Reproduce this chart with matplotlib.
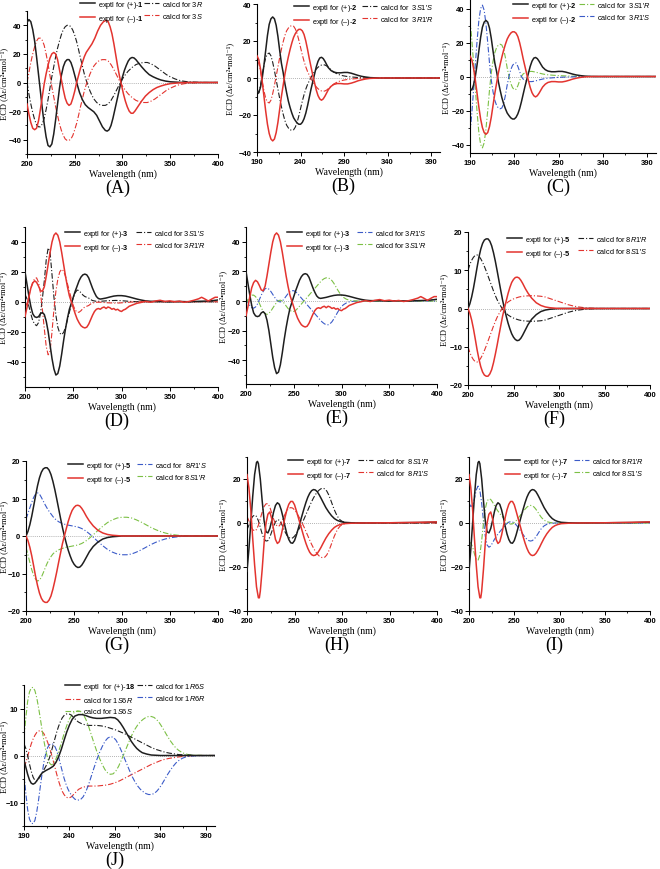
import numpy as np
import matplotlib
matplotlib.use("Agg")
import matplotlib.pyplot as plt
from matplotlib.ticker import MultipleLocator

plt.rcParams['font.family'] = ['Liberation Sans', 'DejaVu Sans']
plt.rcParams['mathtext.fontset'] = 'custom'
plt.rcParams['mathtext.rm'] = 'Liberation Sans'
plt.rcParams['mathtext.it'] = 'Liberation Sans:italic'
plt.rcParams['mathtext.bf'] = 'Liberation Sans:bold'

W, H = 660, 870
BLACK = '#1e1e1e'
RED = '#e3342f'
GREEN = '#7cc045'
BLUE = '#3b5bc8'
SERIF = ['Liberation Serif', 'DejaVu Serif']

# ---------------- data (wavelength nm, delta epsilon) ----------------
# (A) compound 1
a_exp_pos = [(200,42),(202,44),(204,42.5),(206,37),(208,29),(210,18),(212,6),(214,-6),(216,-18),(218,-29),(220,-38),(222,-44),(224,-45),(226,-43),(228,-36),(230,-26),(232,-15),(234,-4),(236,5),(238,11),(240,14.5),(242,16),(244,16),(246,14),(248,10),(250,5),(252,0),(255,-7),(258,-12),(261,-15.5),(264,-17.5),(267,-19),(270,-20.5),(273,-23),(276,-27),(279,-31),(282,-33.5),(284,-34),(286,-33),(288,-30),(290,-25),(292,-19),(294,-13),(296,-7),(298,-1),(300,4),(302,8.5),(304,12),(306,15),(308,16.8),(310,17.5),(312,17.2),(314,16),(317,13.5),(320,11),(324,8),(328,5.5),(332,4),(336,2.8),(340,1.8),(345,1),(350,0.5),(360,0.1),(370,0),(400,0)]
a_exp_neg = [(200,-15),(202,-22),(204,-28),(206,-32),(208,-33),(210,-32),(212,-27),(214,-19),(216,-10),(218,-1),(220,6),(222,12),(224,17),(226,20),(228,21),(230,20),(232,16),(234,9),(236,2),(238,-5),(240,-11),(242,-14.5),(244,-16),(246,-15),(248,-11),(250,-6),(252,0),(254,5),(256,10),(258,14),(260,18),(262,21),(265,24),(268,27),(271,31),(274,36),(277,40),(280,42.5),(283,43.5),(285,42.5),(287,39),(289,34),(291,27),(293,19),(295,11),(297,4),(299,-2),(301,-8),(303,-13),(305,-17),(307,-20),(309,-21.5),(311,-21.5),(313,-20),(316,-17),(320,-13),(324,-9.5),(328,-7),(332,-5),(336,-3.5),(340,-2.5),(345,-1.5),(350,-0.8),(360,-0.2),(370,0),(400,0)]
a_calc_3R = [(200,0),(202,-8),(204,-15),(206,-21),(208,-26),(210,-29.5),(212,-31),(214,-31),(216,-29),(218,-25),(220,-19),(222,-12),(224,-4),(226,4),(228,11),(230,18),(232,24),(234,29),(236,33.5),(238,37),(240,39),(242,40),(244,40),(246,39),(248,36.5),(250,33),(252,28.5),(254,23),(256,17),(258,11.5),(260,6),(262,1.5),(264,-2.5),(266,-6),(268,-9),(270,-11.5),(273,-14),(276,-15.5),(279,-16),(282,-16),(285,-15),(288,-12.5),(291,-9),(294,-5),(297,-1),(300,2.5),(303,5.5),(306,8),(310,10.5),(314,12.5),(318,13.5),(322,14),(326,14),(330,13),(334,11.5),(338,9.5),(342,7.5),(346,5.5),(350,4),(355,2.5),(360,1.4),(365,0.8),(370,0.4),(380,0.1),(390,0),(400,0)]
a_calc_3S = [(200,0),(202,7),(204,14),(206,20),(208,25),(210,29),(212,31),(214,31),(216,29.5),(218,26),(220,20),(222,13),(224,5),(226,-3),(228,-10),(230,-17),(232,-23),(234,-29),(236,-33.5),(238,-37),(240,-39.5),(242,-40.5),(244,-40.5),(246,-39.5),(248,-37),(250,-33),(252,-28.5),(254,-23),(256,-17),(258,-11.5),(260,-6),(262,-1.5),(264,2.5),(266,6),(268,9),(270,11.5),(273,14),(276,15.5),(279,16),(282,16),(285,15),(288,12.5),(291,9),(294,5),(297,1),(300,-2.5),(303,-5.5),(306,-8),(310,-10.5),(314,-12.5),(318,-13.5),(322,-14),(326,-14),(330,-13),(334,-11.5),(338,-9.5),(342,-7.5),(346,-5.5),(350,-4),(355,-2.5),(360,-1.4),(365,-0.8),(370,-0.4),(380,-0.1),(390,0),(400,0)]

# (B), (C) compound 2
b_exp_pos = [(190,-7),(192,-8),(194,-5),(196,0),(198,7),(200,15),(202,23),(204,29),(206,32),(208,33),(210,32),(212,28.5),(214,22.5),(216,15),(218,8),(220,3),(222,-3),(224,-8),(226,-12.5),(228,-16),(230,-19),(232,-21.5),(234,-23),(236,-24.3),(238,-25),(240,-25),(242,-24),(244,-22),(246,-19),(248,-15),(250,-10.5),(252,-6),(254,-2),(256,2),(258,6),(260,9),(262,10.8),(264,11.2),(266,10.5),(268,9),(270,7.2),(272,5.5),(275,4),(278,3.2),(282,2.8),(286,2.8),(290,3),(294,3),(298,2.6),(302,2),(306,1.4),(310,0.9),(315,0.5),(320,0.2),(330,0),(400,0)]
b_exp_neg = [(190,12),(192,10),(194,5),(196,-2),(198,-10),(200,-18),(202,-25),(204,-30),(206,-33),(208,-34),(210,-33),(212,-29.5),(214,-24),(216,-17),(218,-10),(220,-4),(222,2),(224,7),(226,11.5),(228,15.5),(230,19),(232,22),(234,24),(236,25.5),(238,26.3),(240,26.3),(242,25.5),(244,23.5),(246,20),(248,15.5),(250,10.5),(252,6),(254,1.5),(256,-2.5),(258,-6.5),(260,-9.5),(262,-11.3),(264,-12),(266,-11.3),(268,-9.8),(270,-8),(272,-6.2),(275,-4.5),(278,-3.5),(282,-3),(286,-3),(290,-3.2),(294,-3.2),(298,-2.8),(302,-2.2),(306,-1.5),(310,-1),(315,-0.5),(320,-0.2),(330,0),(400,0)]
b_calc_3S1S = [(190,-9),(192,-8),(194,-4),(196,2),(198,7),(200,11),(202,13),(204,13.5),(206,12),(208,8.5),(210,4),(212,-1),(214,-6),(216,-11),(218,-15.5),(220,-19.5),(222,-23),(224,-25.5),(226,-27),(228,-28),(230,-28.3),(232,-28),(234,-26.5),(236,-24),(238,-20.5),(240,-16.5),(242,-12.5),(244,-9),(246,-6),(248,-3.5),(250,-1.5),(252,0.3),(254,2),(256,3.5),(258,4.8),(260,5.8),(262,6.5),(264,7),(266,7.2),(268,7),(270,6.5),(272,5.7),(275,4.5),(278,3.3),(282,2.2),(286,1.5),(290,1.1),(295,0.7),(300,0.5),(305,0.3),(310,0.1),(320,0),(400,0)]
b_calc_3R1R = [(190,9),(192,8),(194,4),(196,-2),(198,-7),(200,-11),(202,-13),(204,-13.5),(206,-12),(208,-8.5),(210,-4),(212,1),(214,6),(216,11),(218,15.5),(220,19.5),(222,23),(224,25.5),(226,27),(228,28),(230,28.3),(232,28),(234,26.5),(236,24),(238,20.5),(240,16.5),(242,12.5),(244,9),(246,6),(248,3.5),(250,1.5),(252,-0.3),(254,-2),(256,-3.5),(258,-4.8),(260,-5.8),(262,-6.5),(264,-7),(266,-7.2),(268,-7),(270,-6.5),(272,-5.7),(275,-4.5),(278,-3.3),(282,-2.2),(286,-1.5),(290,-1.1),(295,-0.7),(300,-0.5),(305,-0.3),(310,-0.1),(320,0),(400,0)]
c_calc_3S1R = [(190,33),(192,22),(194,8),(196,-7),(198,-21),(200,-33),(202,-40),(204,-42),(206,-39),(208,-31),(210,-20),(212,-8),(214,2),(216,9),(218,14),(220,17),(222,18.5),(224,19),(226,18.5),(228,16),(230,11),(232,5),(234,0),(236,-4),(238,-6.5),(240,-7.8),(242,-7.5),(244,-5.5),(246,-2.5),(248,0),(250,1.5),(253,2.5),(256,3),(260,3),(264,2.6),(268,2),(272,1.5),(276,1.1),(280,0.9),(285,0.7),(290,0.5),(300,0.3),(310,0.1),(320,0),(400,0)]
c_calc_3R1S = [(190,-33),(192,-22),(194,-8),(196,7),(198,21),(200,33),(202,40),(204,42),(206,39),(208,31),(210,20),(212,8),(214,-2),(216,-9),(218,-14),(220,-17),(222,-18.5),(224,-19),(226,-18.5),(228,-16),(230,-11),(232,-5),(234,0),(236,4),(238,6.5),(240,7.8),(242,8),(244,6),(246,3),(248,0),(250,-1.5),(253,-2.5),(256,-3),(260,-3),(264,-2.6),(268,-2),(272,-1.5),(276,-1.1),(280,-0.9),(285,-0.7),(290,-0.5),(300,-0.3),(310,-0.1),(320,0),(400,0)]

# (D), (E) compound 3
d_exp_pos = [(200,20),(202,12),(204,4),(206,-3),(208,-8),(210,-10),(212,-10.5),(214,-10),(216,-8),(218,-7.2),(220,-8.5),(222,-13),(224,-20),(226,-29),(228,-38),(230,-45),(232,-49),(234,-48),(236,-43),(238,-35),(240,-26),(242,-18),(244,-11),(246,-5),(248,-1),(250,3),(252,7),(254,10.5),(256,14),(258,16.5),(260,18),(262,18.5),(264,18),(266,16),(268,12.5),(270,9),(272,6),(274,3.5),(276,2.2),(278,1.8),(280,2),(284,2.5),(288,3.2),(292,3.8),(296,4.1),(300,4.1),(304,3.8),(308,3.2),(312,2.5),(316,1.8),(320,1.2),(325,0.6),(330,0.3),(340,0.2),(350,0),(360,0.2),(370,0),(380,0.3),(390,0.5),(395,0.8),(400,1.2)]
d_exp_neg = [(200,-10),(202,-4),(204,3),(206,9),(208,12.5),(210,14),(212,13),(214,10.5),(216,7.5),(218,7),(220,10),(222,17),(224,25),(226,33),(228,40),(230,44.5),(232,46),(234,44.5),(236,40),(238,33),(240,25),(242,17),(244,10),(246,4),(248,0),(250,-4),(252,-8),(254,-11.5),(256,-14),(258,-16),(260,-17),(262,-17.5),(264,-17),(266,-15),(268,-12),(270,-9),(272,-6.5),(274,-5),(276,-4.5),(278,-5),(280,-4),(282,-3.5),(284,-4.5),(286,-3.5),(288,-4),(290,-5),(292,-4.5),(294,-5.5),(296,-5),(298,-6),(300,-6.5),(302,-5.5),(304,-5),(306,-4),(308,-3),(312,-2),(316,-1),(320,-0.5),(325,0.3),(330,-0.3),(335,0.5),(340,1),(345,0.2),(350,0.6),(355,0),(360,0.4),(365,-0.3),(370,0.2),(375,1),(380,2),(383,3),(386,2),(390,0.5),(394,2),(397,3),(400,3)]
d_calc_3S1S = [(200,5),(202,2),(204,-3),(206,-8),(208,-12.5),(210,-15),(212,-16),(214,-14),(216,-8),(218,2),(220,14),(222,28),(224,36),(226,33),(228,18),(230,3),(232,-9),(234,-17),(236,-21),(238,-22),(240,-20.5),(242,-17),(244,-12),(246,-7),(248,-2),(250,2.5),(252,6),(254,7.8),(256,7.5),(258,6),(260,4.5),(262,3.5),(264,3),(266,2.5),(268,1.5),(270,0.8),(274,0.3),(278,0.3),(282,0.5),(286,0.7),(290,0.8),(294,0.9),(298,0.8),(302,0.6),(306,0.4),(310,0.2),(320,0),(400,0)]
d_calc_3R1R = [(200,-4),(202,-1),(204,4),(206,9),(208,13),(210,15.5),(212,16),(214,13),(216,6),(218,-5),(220,-18),(222,-30),(224,-35.5),(226,-33),(228,-20),(230,-5),(232,7),(234,15),(236,20),(238,21.7),(240,20.5),(242,17),(244,12),(246,7),(248,2),(250,-2.5),(252,-5.5),(254,-7),(256,-7),(258,-6),(260,-4.5),(262,-3.5),(264,-3),(266,-2.5),(268,-1.5),(270,-0.8),(274,-0.3),(278,-0.3),(282,-0.5),(286,-0.7),(290,-0.8),(294,-0.9),(298,-0.8),(302,-0.6),(306,-0.4),(310,-0.2),(320,0),(400,0)]
e_calc_3R1S = [(200,2),(202,-1),(204,-3),(206,-4.5),(208,-4.8),(210,-4),(212,-2),(214,1),(216,4),(218,6.5),(220,8.3),(222,8.8),(224,8),(226,6.5),(228,4.5),(230,2.5),(232,0.8),(234,-0.3),(236,-0.6),(238,0),(240,1.5),(242,3.3),(244,5),(246,6.3),(248,7),(250,7),(252,6.3),(254,5),(256,3.5),(258,2),(260,0.5),(262,-1),(264,-2.5),(266,-4),(268,-5.5),(270,-7),(272,-8.5),(274,-10),(276,-11.5),(278,-13),(280,-14.3),(282,-15.3),(284,-16),(286,-16),(288,-15.3),(290,-14),(292,-12),(294,-9.8),(296,-7.5),(298,-5.5),(300,-3.8),(302,-2.5),(305,-1.3),(308,-0.6),(312,-0.2),(320,0),(400,0)]
e_calc_3S1R = [(200,-2),(202,1),(204,3),(206,4),(208,4),(210,3),(212,1),(214,-1.5),(216,-4.5),(218,-7),(220,-8.5),(222,-9),(224,-8.3),(226,-6.8),(228,-4.8),(230,-2.8),(232,-1),(234,0.3),(236,0.6),(238,0),(240,-1.5),(242,-3.3),(244,-5),(246,-6.3),(248,-7),(250,-7),(252,-6.3),(254,-5),(256,-3.5),(258,-2),(260,-0.5),(262,1),(264,2.5),(266,4),(268,5.5),(270,7),(272,8.5),(274,10),(276,11.5),(278,13),(280,14.3),(282,15.2),(284,15.7),(286,15.7),(288,15),(290,13.8),(292,12),(294,9.8),(296,7.5),(298,5.5),(300,3.8),(302,2.5),(305,1.3),(308,0.6),(312,0.2),(320,0),(400,0)]

# (F), (G) compound 5
f_exp_pos = [(200,0),(202,1.2),(204,3),(206,5.3),(208,8),(210,10.8),(212,13.4),(214,15.5),(216,17),(218,17.9),(220,18.2),(222,18.2),(224,17.6),(226,16.4),(228,14.6),(230,12.4),(232,9.9),(234,7.3),(236,4.7),(238,2.2),(240,0),(242,-2),(244,-3.8),(246,-5.3),(248,-6.6),(250,-7.5),(252,-8.1),(254,-8.4),(256,-8.3),(258,-7.8),(260,-7),(263,-5.6),(266,-4.2),(270,-2.8),(275,-1.6),(280,-0.8),(285,-0.4),(290,-0.2),(300,0),(400,0)]
f_exp_neg = [(200,0),(202,-1.2),(204,-3),(206,-5.3),(208,-8),(210,-10.8),(212,-13.2),(214,-15.2),(216,-16.6),(218,-17.4),(220,-17.7),(222,-17.7),(224,-17.1),(226,-16),(228,-14.2),(230,-12),(232,-9.6),(234,-7),(236,-4.5),(238,-2),(240,0),(242,2),(244,3.9),(246,5.5),(248,6.8),(250,7.6),(252,8.1),(254,8.2),(256,8),(258,7.4),(260,6.6),(263,5.2),(266,4),(270,2.7),(275,1.5),(280,0.8),(285,0.4),(290,0.2),(300,0),(400,0)]
f_calc_8R1R = [(200,10),(202,11.5),(204,12.6),(206,13.4),(208,13.9),(210,14),(212,13.7),(214,13),(216,12.1),(218,11),(220,9.8),(222,8.5),(224,7.2),(226,5.9),(228,4.6),(230,3.4),(232,2.3),(234,1.4),(236,0.6),(238,-0.2),(240,-0.8),(244,-1.7),(248,-2.3),(252,-2.7),(256,-3),(260,-3.2),(265,-3.3),(270,-3.35),(275,-3.3),(280,-3.2),(285,-3),(290,-2.6),(295,-2.2),(300,-1.8),(305,-1.4),(310,-1),(315,-0.7),(320,-0.45),(325,-0.3),(330,-0.15),(340,-0.05),(350,0),(400,0)]
f_calc_8S1S = [(200,-10),(202,-11.5),(204,-12.6),(206,-13.4),(208,-13.9),(210,-14),(212,-13.7),(214,-13),(216,-12.1),(218,-11),(220,-9.8),(222,-8.5),(224,-7.2),(226,-5.9),(228,-4.6),(230,-3.4),(232,-2.3),(234,-1.4),(236,-0.6),(238,0.2),(240,0.8),(244,1.7),(248,2.3),(252,2.7),(256,3),(260,3.2),(265,3.3),(270,3.35),(275,3.3),(280,3.2),(285,3),(290,2.6),(295,2.2),(300,1.8),(305,1.4),(310,1),(315,0.7),(320,0.45),(325,0.3),(330,0.15),(340,0.05),(350,0),(400,0)]
g_calc_8R1S = [(200,4.5),(202,6),(204,7.5),(206,9),(208,10.3),(210,11.2),(212,11.5),(214,11.2),(216,10.3),(218,9.3),(220,8.3),(222,7.4),(224,6.6),(226,5.9),(228,5.2),(230,4.6),(234,3.8),(238,3.3),(242,3),(246,2.8),(250,2.6),(254,2.4),(258,2),(262,1.4),(266,0.6),(270,-0.3),(275,-1.5),(280,-2.6),(285,-3.6),(290,-4.3),(295,-4.8),(300,-5),(305,-5),(310,-4.8),(315,-4.3),(320,-3.7),(325,-3),(330,-2.3),(335,-1.7),(340,-1.2),(345,-0.8),(350,-0.5),(355,-0.3),(360,-0.15),(370,0),(400,0)]
g_calc_8S1R = [(200,-3),(202,-5),(204,-7),(206,-9),(208,-10.5),(210,-11.5),(212,-12),(214,-11.8),(216,-11),(218,-9.8),(220,-8.5),(222,-7.3),(224,-6.3),(226,-5.5),(228,-4.8),(230,-4.3),(234,-3.7),(238,-3.3),(242,-3),(246,-2.8),(250,-2.6),(254,-2.4),(258,-2),(262,-1.4),(266,-0.6),(270,0.3),(275,1.5),(280,2.6),(285,3.6),(290,4.3),(295,4.8),(300,5),(305,5),(310,4.8),(315,4.3),(320,3.7),(325,3),(330,2.3),(335,1.7),(340,1.2),(345,0.8),(350,0.5),(355,0.3),(360,0.15),(370,0),(400,0)]

# (H), (I) compound 7
h_exp_pos = [(200,-22),(202,-12),(204,0),(206,12),(208,22),(210,27.5),(211,28),(212,27),(214,20),(216,10),(218,1),(220,-4),(222,-4.5),(224,-2.5),(226,1),(228,5),(230,8),(232,9.2),(234,8.5),(236,6),(238,2.5),(240,-1.5),(242,-5),(244,-7.5),(246,-9),(248,-9.2),(250,-8),(252,-5.5),(254,-2.5),(256,0.5),(258,3.5),(260,6.5),(262,9.3),(264,11.7),(266,13.5),(268,14.7),(270,15.2),(272,15),(274,14.2),(276,12.8),(278,11.2),(280,9.5),(283,7),(286,5),(289,3.3),(292,2),(295,1.2),(298,0.7),(302,0.3),(306,0.2),(310,0.1),(320,0),(350,0.1),(380,0.2),(400,0.4)]
h_exp_neg = [(200,22),(202,16),(204,6),(206,-7),(208,-19),(210,-29),(212,-34),(213,-34),(214,-31),(216,-21),(218,-9),(220,0),(222,4),(224,5),(226,2),(228,-3),(230,-7.5),(232,-9.3),(234,-8.5),(236,-5.5),(238,-1.5),(240,2.5),(242,6),(244,8.5),(246,9.8),(248,9.8),(250,8.3),(252,5.5),(254,2.5),(256,-0.5),(258,-3.5),(260,-6.5),(262,-9.2),(264,-11.5),(266,-13.3),(268,-14.4),(270,-14.8),(272,-14.6),(274,-13.8),(276,-12.5),(278,-11),(280,-9.3),(283,-6.9),(286,-4.9),(289,-3.3),(292,-2),(295,-1.2),(298,-0.7),(302,-0.3),(306,-0.2),(310,-0.1),(320,0),(350,0.1),(380,0.3),(400,0.5)]
h_calc_8S1R = [(200,-3),(202,-1),(204,1.5),(206,3),(208,3.6),(210,3),(212,1),(214,-2),(216,-5),(218,-7.3),(220,-8.2),(222,-8),(224,-6.5),(226,-4),(228,-1.5),(230,0.5),(232,1.5),(234,1.3),(236,0),(238,-2),(240,-4),(242,-5.6),(244,-6.6),(246,-7),(248,-6.8),(250,-6),(252,-4.8),(254,-3.3),(256,-1.7),(258,0),(260,1.8),(262,3.8),(264,5.8),(266,7.8),(268,9.7),(270,11.4),(272,12.9),(274,14.1),(276,15),(278,15.6),(280,15.8),(282,15.5),(284,14.5),(286,12.8),(288,10.6),(290,8.2),(292,5.9),(294,4),(296,2.5),(298,1.4),(300,0.8),(303,0.3),(306,0.1),(310,0),(400,0)]
h_calc_8R1S = [(200,3),(202,1),(204,-1.5),(206,-3),(208,-3.6),(210,-3),(212,-1),(214,2),(216,5),(218,7.5),(220,8.7),(222,8.8),(224,7.3),(226,4.5),(228,1.8),(230,-0.5),(232,-1.5),(234,-1.3),(236,0),(238,2),(240,4),(242,5.6),(244,6.6),(246,7),(248,6.8),(250,6),(252,4.8),(254,3.3),(256,1.7),(258,0),(260,-1.8),(262,-3.8),(264,-5.8),(266,-7.8),(268,-9.7),(270,-11.4),(272,-12.9),(274,-14.1),(276,-15),(278,-15.6),(280,-15.8),(282,-15.5),(284,-14.5),(286,-12.8),(288,-10.6),(290,-8.2),(292,-5.9),(294,-4),(296,-2.5),(298,-1.4),(300,-0.8),(303,-0.3),(306,-0.1),(310,0),(400,0)]
i_calc_8R1R = [(200,9),(202,7.5),(204,8),(206,11),(208,15),(210,16.8),(212,15),(214,9),(216,1),(218,-6),(220,-10),(222,-11),(224,-10.5),(226,-9),(228,-7.5),(230,-6.2),(232,-5),(234,-4),(236,-3),(238,-2),(240,-1),(242,-0.2),(244,0.4),(246,0.6),(248,0.5),(250,0),(252,-0.8),(254,-1.8),(256,-3),(258,-4.2),(260,-5.4),(262,-6.5),(264,-7.4),(266,-8),(268,-8.2),(270,-8),(272,-7.3),(274,-6.3),(276,-5),(278,-3.7),(280,-2.5),(283,-1.3),(286,-0.6),(290,-0.2),(295,0),(400,0)]
i_calc_8S1S = [(200,-9),(202,-9),(204,-11),(206,-14),(208,-16.5),(210,-17),(212,-14.5),(214,-8),(216,0),(218,6.5),(220,10),(222,11),(224,10.7),(226,9.5),(228,8),(230,6.6),(232,5.4),(234,4.3),(236,3.3),(238,2.3),(240,1.3),(242,0.4),(244,-0.2),(246,-0.5),(248,-0.4),(250,0.2),(252,1),(254,2),(256,3.1),(258,4.2),(260,5.3),(262,6.3),(264,7.2),(266,7.8),(268,8),(270,7.8),(272,7.2),(274,6.2),(276,5),(278,3.7),(280,2.5),(283,1.3),(286,0.6),(290,0.2),(295,0),(400,0)]

# (J) compound 18
j_exp_pos = [(190,-1),(192,-2.5),(194,-4),(196,-5.2),(198,-5.9),(200,-6.1),(202,-5.9),(204,-5.4),(206,-4.8),(208,-4.2),(210,-3.7),(214,-3.2),(218,-2.8),(222,-2.3),(225,-1.5),(228,-0.3),(231,1.3),(234,3.2),(237,5),(240,6.5),(243,7.7),(246,8.4),(250,8.7),(254,8.7),(258,8.5),(262,8.2),(266,8),(270,7.9),(275,7.9),(280,8),(285,8.1),(290,8),(293,7.6),(296,6.9),(299,6),(302,5),(305,4),(308,3),(311,2.2),(314,1.5),(317,1),(320,0.6),(325,0.3),(330,0.1),(340,0),(400,0)]
j_calc_1R6S = [(190,2.5),(192,1.5),(194,0),(196,-1.8),(198,-3.4),(200,-4.6),(202,-5.3),(204,-5.4),(206,-5),(208,-4.4),(210,-3.7),(212,-3),(214,-2.3),(216,-1.5),(218,-0.5),(220,0.8),(222,2.2),(224,3.6),(226,5),(228,6.2),(230,7.2),(232,8),(234,8.5),(236,8.8),(238,8.9),(240,8.8),(242,8.6),(244,8.2),(246,7.8),(248,7.4),(250,7.1),(254,6.7),(258,6.5),(262,6.4),(266,6.4),(270,6.4),(275,6.3),(280,6.1),(285,5.8),(290,5.5),(295,5.1),(300,4.7),(305,4.2),(310,3.7),(315,3.2),(320,2.7),(325,2.2),(330,1.7),(335,1.3),(340,1),(345,0.7),(350,0.5),(360,0.2),(370,0.1),(380,0),(400,0)]
j_calc_1S6R = [(190,-2.5),(192,-1.5),(194,-0.2),(196,1.2),(198,2.5),(200,3.5),(202,4.3),(204,4.9),(206,5.2),(208,5.3),(210,5.1),(212,4.6),(214,3.8),(216,2.8),(218,1.7),(220,0.4),(222,-1),(224,-2.5),(226,-4),(228,-5.4),(230,-6.6),(232,-7.6),(234,-8.3),(236,-8.8),(238,-9),(240,-9),(242,-8.8),(244,-8.4),(246,-8),(248,-7.6),(250,-7.2),(254,-6.8),(258,-6.6),(262,-6.5),(266,-6.5),(270,-6.5),(275,-6.4),(280,-6.3),(285,-6.1),(290,-5.8),(295,-5.4),(300,-4.9),(305,-4.4),(310,-3.9),(315,-3.4),(320,-2.9),(325,-2.4),(330,-1.9),(335,-1.5),(340,-1.1),(345,-0.8),(350,-0.6),(360,-0.3),(370,-0.1),(380,0),(400,0)]
j_calc_1S6S = [(190,4),(192,8),(194,11.5),(196,13.5),(198,14.4),(200,14.5),(202,13.8),(204,12.3),(206,10.2),(208,7.8),(210,5.3),(212,3),(214,1),(216,-0.6),(218,-1.6),(220,-2),(222,-1.8),(224,-1.2),(226,-0.3),(228,0.8),(230,2),(232,3.3),(234,4.6),(236,5.8),(238,6.9),(240,7.8),(243,8.7),(246,9.3),(249,9.5),(252,9.4),(255,8.8),(258,7.7),(261,6.2),(264,4.4),(267,2.6),(270,0.9),(273,-0.6),(276,-1.9),(279,-3),(282,-3.7),(285,-4),(288,-3.9),(291,-3.3),(294,-2.3),(297,-1),(300,0.4),(303,1.8),(306,3.2),(309,4.5),(312,5.6),(315,6.5),(318,7.2),(321,7.7),(324,8.1),(327,8.3),(330,8.3),(333,8.1),(336,7.6),(339,6.9),(342,6),(345,5),(348,4),(351,3.1),(354,2.3),(357,1.6),(360,1.1),(364,0.6),(368,0.3),(372,0.15),(380,0.05),(390,0),(400,0)]
j_calc_1R6R = [(190,-4),(192,-8),(194,-11.5),(196,-13.5),(198,-14.4),(200,-14.5),(202,-13.8),(204,-12),(206,-9.5),(208,-6.5),(210,-3.7),(212,-1.3),(214,0.5),(216,1.7),(218,2.3),(220,2.5),(222,2.4),(224,1.9),(226,1),(228,-0.3),(230,-1.8),(232,-3.3),(234,-4.8),(236,-6),(238,-7),(240,-7.8),(243,-8.7),(246,-9.3),(249,-9.5),(252,-9.4),(255,-8.8),(258,-7.7),(261,-6.2),(264,-4.4),(267,-2.6),(270,-0.9),(273,0.6),(276,1.9),(279,3),(282,3.7),(285,4),(288,3.9),(291,3.3),(294,2.3),(297,1),(300,-0.4),(303,-1.8),(306,-3.2),(309,-4.5),(312,-5.6),(315,-6.5),(318,-7.2),(321,-7.7),(324,-8.1),(327,-8.3),(330,-8.3),(333,-8.1),(336,-7.6),(339,-6.9),(342,-6),(345,-5),(348,-4),(351,-3.1),(354,-2.3),(357,-1.6),(360,-1.1),(364,-0.6),(368,-0.3),(372,-0.15),(380,-0.05),(390,0),(400,0)]

EXP_P = "exptl for (+)-$\\mathbf{%s}$"
EXP_N = "exptl for (\u2013)-$\\mathbf{%s}$"

# letter, axes box (l, t, r, b px), xlim, xstep, ylim, ystep, ylabel right-edge x px,
# legend (col1 x, col2 x, top y px), column 1 curves, column 2 curves
panels = [
    ("(A)", (27, 12, 218, 155), (200, 400), 50, (-50, 50), 20, 8, (80, 144, 0),
     [(a_exp_pos, BLACK, '-', EXP_P % "1"), (a_exp_neg, RED, '-', EXP_N % "1")],
     [(a_calc_3R, BLACK, 'dd', "calcd for 3$R$"), (a_calc_3S, RED, 'dd', "calcd for 3$S$")]),
    ("(B)", (257, 5, 440, 153), (190, 400), 50, (-40, 40), 20, 234, (294, 362, 3),
     [(b_exp_pos, BLACK, '-', EXP_P % "2"), (b_exp_neg, RED, '-', EXP_N % "2")],
     [(b_calc_3S1S, BLACK, 'dd', "calcd for  3$S$1'$S$"), (b_calc_3R1R, RED, 'dd', "calcd for  3$R$1'$R$")]),
    ("(C)", (470, 1, 656, 154), (190, 400), 50, (-45, 45), 20, 450, (513, 579, 1),
     [(b_exp_pos, BLACK, '-', EXP_P % "2"), (b_exp_neg, RED, '-', EXP_N % "2")],
     [(c_calc_3S1R, GREEN, 'dd', "calcd for  3$S$1'$R$"), (c_calc_3R1S, BLUE, 'dd', "calcd for  3$R$1'$S$")]),
    ("(D)", (25, 228, 218, 388), (200, 400), 50, (-57, 50), 20, 7, (65, 136, 229),
     [(d_exp_pos, BLACK, '-', EXP_P % "3"), (d_exp_neg, RED, '-', EXP_N % "3")],
     [(d_calc_3S1S, BLACK, 'dd', "calcd for 3$S$1'$S$"), (d_calc_3R1R, RED, 'dd', "calcd for 3$R$1'$R$")]),
    ("(E)", (246, 228, 437, 385), (200, 400), 50, (-56, 50), 20, 227, (287, 357, 229),
     [(d_exp_pos, BLACK, '-', EXP_P % "3"), (d_exp_neg, RED, '-', EXP_N % "3")],
     [(e_calc_3R1S, BLUE, 'dd', "calcd for 3$R$1'$S$"), (e_calc_3S1R, GREEN, 'dd', "calcd for 3$S$1'$R$")]),
    ("(F)", (468, 233, 650, 386), (200, 400), 50, (-20, 20), 10, 448, (507, 578, 235),
     [(f_exp_pos, BLACK, '-', EXP_P % "5"), (f_exp_neg, RED, '-', EXP_N % "5")],
     [(f_calc_8R1R, BLACK, 'dd', "calcd for 8$R$1'$R$"), (f_calc_8S1S, RED, 'dd', "calcd for 8$S$1'$S$")]),
    ("(G)", (26, 462, 218, 612), (200, 400), 50, (-20, 20), 10, 8, (68, 137, 461),
     [(f_exp_pos, BLACK, '-', EXP_P % "5"), (f_exp_neg, RED, '-', EXP_N % "5")],
     [(g_calc_8R1S, BLUE, 'dd', "cacd for  8$R$1'$S$"), (g_calc_8S1R, GREEN, 'dd', "calcd for 8$S$1'$R$")]),
    ("(H)", (247, 458, 437, 612), (200, 400), 50, (-40, 30), 20, 227, (288, 358, 457),
     [(h_exp_pos, BLACK, '-', EXP_P % "7"), (h_exp_neg, RED, '-', EXP_N % "7")],
     [(h_calc_8S1R, BLACK, 'dd', "calcd for  8$S$1'$R$"), (h_calc_8R1S, RED, 'dd', "calcd for  8$R$1'$S$")]),
    ("(I)", (469, 458, 650, 612), (200, 400), 50, (-40, 30), 20, 448, (505, 574, 457),
     [(h_exp_pos, BLACK, '-', EXP_P % "7"), (h_exp_neg, RED, '-', EXP_N % "7")],
     [(i_calc_8R1R, BLUE, 'dd', "calcd for 8$R$1'$R$"), (i_calc_8S1S, GREEN, 'dd', "calcd for 8$S$1'$S$")]),
    ("(J)", (24, 686, 215, 827), (190, 400), 50, (-15, 15), 10, 8, (65, 137, 682),
     [(j_exp_pos, BLACK, '-', "exptl  for (+)-$\\mathbf{18}$"), (j_calc_1S6R, RED, 'dd', "calcd for 1$S$6$R$"),
      (j_calc_1S6S, GREEN, 'dd', "calcd for 1$S$6$S$")],
     [(j_calc_1R6S, BLACK, 'dd', "calcd for 1$R$6$S$"), (j_calc_1R6R, BLUE, 'dd', "calcd for 1$R$6$R$")]),
]

fig = plt.figure(figsize=(W / 100, H / 100), dpi=100)

for letter, box, xlim, xstep, ylim, ystep, ylab_x, leg, col1, col2 in panels:
    l, t, r, b = box
    ax = fig.add_axes([l / W, 1 - b / H, (r - l) / W, (b - t) / H])
    ax.axhline(0, color='#9a9a9a', lw=0.6, ls=(0, (1, 1.5)), zorder=1)
    columns = []
    for group in (col1, col2):
        handles = []
        for pts, color, style, label in group:
            x, y = np.array(pts, dtype=float).T
            if style == 'dd':
                ln, = ax.plot(x, y, color=color, lw=0.8, ls=(0, (5, 1.8, 1, 1.8)), label=label, zorder=2)
            else:
                ln, = ax.plot(x, y, color=color, lw=1.1, label=label, zorder=3)
            handles.append(ln)
        columns.append(handles)
    ax.set_xlim(*xlim)
    ax.set_ylim(*ylim)
    if xlim[0] == 190:
        ax.set_xticks(np.arange(190, 401, 50))
        ax.set_xticks(np.arange(215, 401, 50), minor=True)
    else:
        ax.xaxis.set_major_locator(MultipleLocator(xstep))
        ax.xaxis.set_minor_locator(MultipleLocator(xstep / 2))
    ax.yaxis.set_major_locator(MultipleLocator(ystep))
    ax.yaxis.set_minor_locator(MultipleLocator(ystep / 2))
    for s in ('top', 'right'):
        ax.spines[s].set_visible(False)
    for s in ('left', 'bottom'):
        ax.spines[s].set_linewidth(0.8)
    ax.tick_params(which='major', direction='out', length=3, width=0.7, labelsize=5.5, pad=1)
    ax.tick_params(which='minor', direction='out', length=1.5, width=0.6)
    for lab in ax.get_xticklabels() + ax.get_yticklabels():
        lab.set_fontweight('bold')
    ax.set_xlabel("Wavelength (nm)", family=SERIF, fontsize=7, labelpad=1)
    ax.set_ylabel("ECD (\u0394\u03b5/cm\u00b2\u2022mol\u207b\u00b9)", family=SERIF, fontsize=6)
    ax.yaxis.set_label_coords((ylab_x - l) / (r - l), 0.5)
    for handles, lx in zip(columns, leg[:2]):
        fig.legend(handles=handles, loc='upper left',
                   bbox_to_anchor=(lx / W, 1 - leg[2] / H), bbox_transform=fig.transFigure,
                   frameon=False, fontsize=5.3, handlelength=2.0, handletextpad=0.4,
                   borderpad=0, borderaxespad=0, labelspacing=0.35)
    fig.text(((l + r) / 2 - 5) / W, 1 - (b + 33) / H, letter, family=SERIF, fontsize=13,
             ha='center', va='center')

fig.savefig("out.png", dpi=100)
